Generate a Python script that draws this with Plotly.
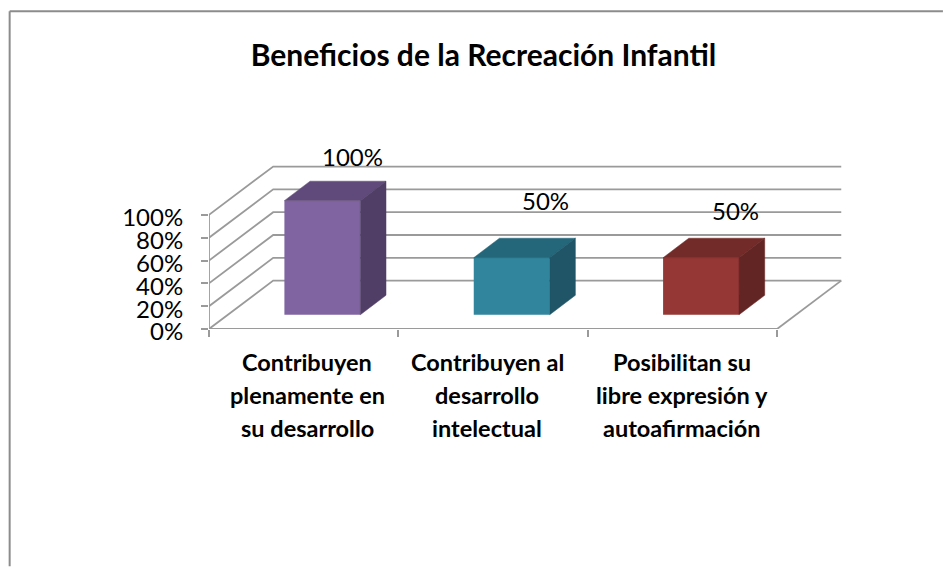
import plotly.graph_objects as go

categories = ["Contribuyen<br>plenamente en<br>su desarrollo",
              "Contribuyen al<br>desarrollo<br>intelectual",
              "Posibilitan su<br>libre expresión y<br>autoafirmación"]
values = [100, 50, 50]
y_ticks = [0, 20, 40, 60, 80, 100]
y_tick_labels = ["0%", "20%", "40%", "60%", "80%", "100%"]
title = "Beneficios de la Recreación Infantil"

front_colors = ["#8064A2", "#31859C", "#953735"]
top_colors = ["#604A7B", "#24667A", "#722B29"]
side_colors = ["#503E66", "#1F5566", "#632523"]

# Pseudo-3D projection, in axis units (category widths / percent)
W, H = 943, 567
L, B = 208.5, 329.3          # pixel of axis origin
CAT_PX, PCT_PX = 189.5, 1.143
R_PX, T_PX = 850, 160
WALL_DX, WALL_DY = 0.339, 42.4
BAR_SHIFT_X, BAR_BASE = 0.0987, 12.5
BAR_W = 0.401
BAR_DX, BAR_DY = 0.1356, 17.06
label_px = [(352, 156), (545, 201), (735, 211)]
cat_center_px = [307, 487, 682]
cat_line_px = [362, 395, 428]

x_min, x_max = -0.5, -0.5 + (R_PX - L) / CAT_PX
y_max = (B - T_PX) / PCT_PX
GRID = "#9a9a9a"
FONT = "Lato"

def px(p):
    return (p - L) / (R_PX - L)

def py(p):
    return (B - p) / (B - T_PX)

fig = go.Figure()

def line(xs, ys, color=GRID, width=1.8):
    fig.add_trace(go.Scatter(x=xs, y=ys, mode="lines", cliponaxis=False, zorder=-1,
                             line=dict(color=color, width=width),
                             hoverinfo="skip", showlegend=False))

def poly(xs, ys, color, z):
    fig.add_trace(go.Scatter(x=xs, y=ys, mode="lines", fill="toself", fillcolor=color,
                             line=dict(color=color, width=0.5), zorder=z,
                             cliponaxis=False, hoverinfo="skip", showlegend=False))

n = len(categories)
right = n - 0.5
for t in y_ticks:
    line([-0.5, -0.5 + WALL_DX, right + WALL_DX], [t, t + WALL_DY, t + WALL_DY])
line([right, right + WALL_DX], [0, WALL_DY])
line([-0.5, -0.5], [0, max(y_ticks)])
line([-0.5, right], [0, 0])

xpos = [i + BAR_SHIFT_X for i in range(n)]
fig.add_trace(go.Bar(x=xpos, y=values, base=BAR_BASE, width=BAR_W, zorder=1,
                     marker=dict(color=front_colors, line=dict(width=0)),
                     hoverinfo="skip", showlegend=False))

for i, v in enumerate(values):
    xl, xr = xpos[i] - BAR_W / 2, xpos[i] + BAR_W / 2
    yb, yt = BAR_BASE, BAR_BASE + v
    poly([xl, xl + BAR_DX, xr + BAR_DX, xr, xl], [yt, yt + BAR_DY, yt + BAR_DY, yt, yt], top_colors[i], 2)
    poly([xr, xr + BAR_DX, xr + BAR_DX, xr, xr], [yb, yb + BAR_DY, yt + BAR_DY, yt, yb], side_colors[i], 2)

anns = []
for i, v in enumerate(values):
    anns.append(dict(x=px(label_px[i][0]), y=py(label_px[i][1]), xref="paper", yref="paper",
                     xanchor="center", yanchor="middle",
                     text=f"{v}%", showarrow=False, font=dict(family=FONT, size=24, color="#000")))
    for j, part in enumerate(categories[i].split("<br>")):
        anns.append(dict(x=px(cat_center_px[i]), y=py(cat_line_px[j]), xref="paper", yref="paper",
                         xanchor="center", yanchor="middle",
                         text=part, showarrow=False, font=dict(family=FONT, size=23.5, color="#000", weight="bold")))

fig.update_layout(
    width=W, height=H, autosize=False,
    margin=dict(l=L, r=W - R_PX, t=T_PX, b=H - B, pad=0),
    paper_bgcolor="white", plot_bgcolor="white", showlegend=False,
    title=dict(text=title, x=483.5 / W, xanchor="center", y=1 - 55 / H, yanchor="middle",
               font=dict(family=FONT, size=30, color="#000", weight="bold")),
    annotations=anns,
    shapes=[
        dict(type="line", xref="paper", yref="paper", x0=px(9), x1=px(W), y0=py(11), y1=py(11),
             line=dict(color="#8c8c8c", width=2)),
        dict(type="line", xref="paper", yref="paper", x0=px(9), x1=px(9), y0=py(H), y1=py(11),
             line=dict(color="#8c8c8c", width=2)),
    ],
    xaxis=dict(range=[x_min, x_max], tickvals=[], showgrid=False, zeroline=False, showline=False,
               minor=dict(tickvals=[-0.5, 0.5, 1.5, 2.5], ticks="outside", ticklen=7, tickwidth=1.8, tickcolor=GRID)),
    yaxis=dict(range=[0, y_max], tickvals=y_ticks, ticktext=y_tick_labels, ticks="outside", ticklen=7,
               tickwidth=1.8, tickcolor=GRID, ticklabelstandoff=13, ticklabelshift=3,
               showgrid=False, zeroline=False, showline=False,
               tickfont=dict(family=FONT, size=24, color="#000")),
)
fig.write_html("out.html", config=dict(displayModeBar=False),
               post_script="document.body.style.margin='0';document.body.style.overflow='hidden';")
